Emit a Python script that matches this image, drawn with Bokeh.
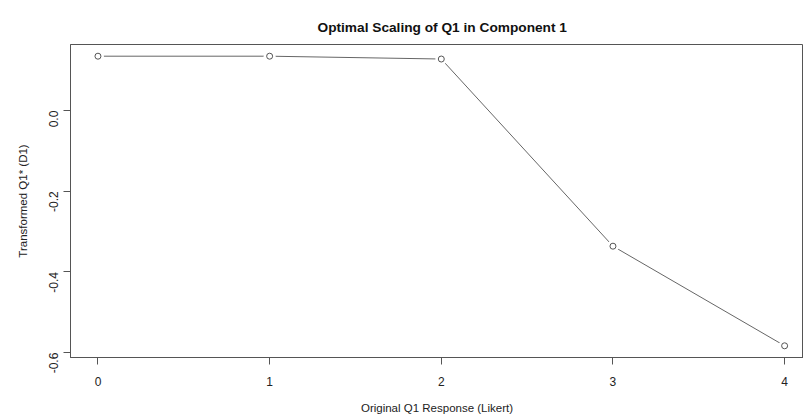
import math
from bokeh.plotting import figure
from bokeh.models import FixedTicker, PrintfTickFormatter, Range1d
from bokeh.embed import file_html
from bokeh.resources import INLINE

x_vals = [0, 1, 2, 3, 4]
y_vals = [0.135, 0.135, 0.128, -0.336, -0.583]
x_ticks = [0, 1, 2, 3, 4]
y_ticks = [-0.6, -0.4, -0.2, 0.0]

FONT = "Liberation Sans"
GREY = "#555555"

p = figure(width=803, height=416, output_backend="svg", toolbar_location=None,
           x_range=Range1d(-0.16, 4.11), y_range=Range1d(-0.612, 0.164),
           min_border_left=70, min_border_right=0, min_border_top=44, min_border_bottom=58)

p.title.text = "Optimal Scaling of Q1 in Component 1"
p.title.text_font = FONT
p.title.text_font_size = "13.7px"
p.title.text_font_style = "bold"
p.title.text_color = "#111111"
p.title.align = "left"
p.title.offset = 247
p.title.standoff = 20

p.grid.visible = False
p.background_fill_color = "white"
p.border_fill_color = "white"
p.outline_line_color = GREY
p.outline_line_width = 1

p.line(x_vals, y_vals, line_color="#666666", line_width=1)
p.scatter(x_vals, y_vals, size=12, fill_color="white", line_color=None)
p.scatter(x_vals, y_vals, size=6, fill_color="white", line_color=GREY, line_width=1)

for ax in (p.xaxis[0], p.yaxis[0]):
    ax.axis_line_color = GREY
    ax.major_tick_line_color = GREY
    ax.minor_tick_line_color = None
    ax.major_tick_out = 7
    ax.major_tick_in = 0
    ax.major_label_text_font = FONT
    ax.major_label_text_font_size = "12px"
    ax.major_label_text_color = "#222222"
    ax.axis_label_text_font = FONT
    ax.axis_label_text_font_size = "11.5px"
    ax.axis_label_text_font_style = "normal"
    ax.axis_label_text_color = "#222222"

p.xaxis.ticker = FixedTicker(ticks=x_ticks)
p.xaxis.axis_label = "Original Q1 Response (Likert)"
p.xaxis.major_label_standoff = 12
p.xaxis.axis_label_standoff = 13

p.yaxis.ticker = FixedTicker(ticks=y_ticks)
p.yaxis.formatter = PrintfTickFormatter(format="%.1f")
p.yaxis.major_label_orientation = math.pi / 2
p.yaxis.axis_label = "Transformed Q1* (D1)"
p.yaxis.major_label_standoff = 10
p.yaxis.axis_label_standoff = 13

open("out.html", "w").write(file_html(p, INLINE))
